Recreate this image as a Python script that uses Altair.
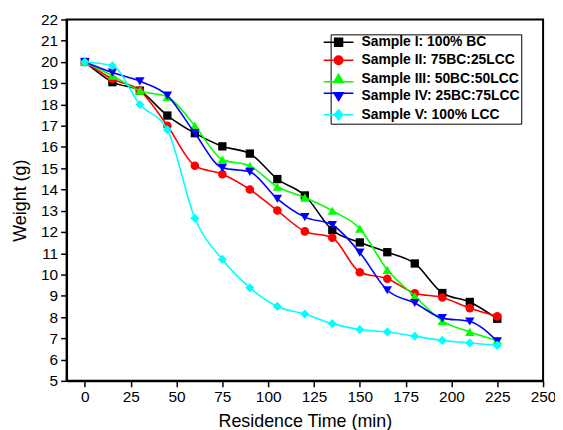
import altair as alt
import pandas as pd

time_min = [0, 15, 30, 45, 60, 75, 90, 105, 120, 135, 150, 165, 180, 195, 210, 225]
sample_1 = [20.0, 19.05, 18.65, 17.48, 16.65, 16.03, 15.69, 14.49, 13.72, 12.09, 11.51, 11.05, 10.52, 9.13, 8.71, 7.92]
sample_2 = [20.0, 19.2, 18.65, 17.0, 15.12, 14.72, 14.0, 13.01, 12.03, 11.73, 10.11, 9.8, 9.12, 8.92, 8.42, 8.03]
sample_3 = [20.0, 19.35, 18.65, 18.36, 17.0, 15.41, 15.11, 14.13, 13.62, 13.0, 12.16, 10.22, 8.98, 7.82, 7.3, 6.9]
sample_4 = [20.0, 19.5, 19.09, 18.42, 16.65, 15.02, 14.83, 13.56, 12.7, 12.33, 11.03, 9.26, 8.66, 7.95, 7.79, 6.86]
sample_5 = [20.0, 19.82, 18.0, 16.81, 12.65, 10.71, 9.38, 8.5, 8.14, 7.69, 7.41, 7.3, 7.1, 6.9, 6.78, 6.67]

names = ["Sample I: 100% BC", "Sample II: 75BC:25LCC", "Sample III: 50BC:50LCC",
         "Sample IV: 25BC:75LCC", "Sample V: 100% LCC"]
colors = ["#000000", "#ff0000", "#00ff00", "#0000ff", "#00ffff"]
marker_shapes = ["square", "circle", "triangle-up", "triangle-down", "diamond"]
marker_sizes = [70, 75, 90, 90, 85]
legend_paths = [
    "M-3.8,0M-3,0H3M-0.8,-0.8H0.8V0.8H-0.8Z",
    "M-3.8,0M-3,0H3M-0.85,0A0.85,0.85 0 1,0 0.85,0A0.85,0.85 0 1,0 -0.85,0Z",
    "M-3.8,0.55M-3,0.55H3M0,-0.95L0.95,0.65L-0.95,0.65Z",
    "M-3.8,-0.55M-3,-0.55H3M0,0.95L0.95,-0.65L-0.95,-0.65Z",
    "M-3.8,0M-3,0H3M0,-1L0.85,0L0,1L-0.85,0Z",
]
x_ticks = [0, 25, 50, 75, 100, 125, 150, 175, 200, 225, 250]
y_ticks = list(range(5, 23))

series = [sample_1, sample_2, sample_3, sample_4, sample_5]
rows = []
for name, vals in zip(names, series):
    for t, v in zip(time_min, vals):
        rows.append({"series": name, "time": t, "weight": v})
df = pd.DataFrame(rows)

x = alt.X("time:Q", scale=alt.Scale(domain=[-10, 250], nice=False, zero=False),
          axis=alt.Axis(values=x_ticks, title="Residence Time (min)"))
y = alt.Y("weight:Q", scale=alt.Scale(domain=[5, 22], nice=False, zero=False),
          axis=alt.Axis(values=y_ticks, title="Weight (g)"))

layers = []
for name, col, shp, sz in zip(names, colors, marker_shapes, marker_sizes):
    base = alt.Chart(df).transform_filter(alt.datum.series == name)
    layers.append(base.mark_line(color=col, strokeWidth=1.6, interpolate="monotone").encode(x=x, y=y))
    layers.append(base.mark_point(shape=shp, filled=True, color=col, size=sz, opacity=1).encode(x=x, y=y))

legend_layer = alt.Chart(df).transform_filter("false").mark_point(filled=True, opacity=1).encode(
    x=x, y=y,
    color=alt.Color("series:N", scale=alt.Scale(domain=names, range=colors), title=None),
    stroke=alt.Stroke("series:N", scale=alt.Scale(domain=names, range=colors), title=None),
    shape=alt.Shape("series:N", scale=alt.Scale(domain=names, range=legend_paths), title=None),
)

chart = alt.layer(*layers, legend_layer).properties(
    width=480, height=364,
    autosize=alt.AutoSizeParams(type="none"),
    padding={"left": 59, "top": 10, "right": 12, "bottom": 48},
).configure_view(
    stroke="black", strokeWidth=2
).configure_axis(
    grid=False, domainColor="black", domainWidth=2, tickColor="black", tickWidth=1.5,
    tickSize=6, labelFont="Liberation Sans", labelFontSize=15.5, labelColor="black",
    titleFont="Liberation Sans", titleFontSize=18, titleFontWeight="normal", titleColor="black",
    labelPadding=3, labelFlush=False, labelOverlap=False,
).configure_axisX(
    titleY=46, titleBaseline="alphabetic"
).configure_axisY(titlePadding=11).configure_legend(
    orient="none", legendX=266, legendY=15, strokeColor="black", fillColor="white",
    padding=1, symbolSize=100, symbolStrokeWidth=1.5, labelFont="Liberation Sans",
    labelFontWeight="bold", labelFontSize=14, labelColor="black", labelOffset=16, rowPadding=3,
)

chart.save("out.html", embed_options={"renderer": "svg", "actions": False})
